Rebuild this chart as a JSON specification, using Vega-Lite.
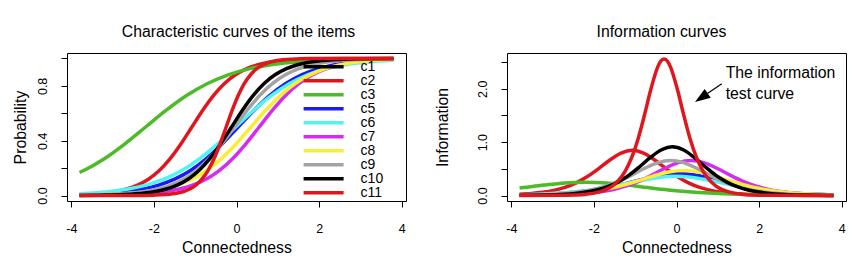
{
  "$schema": "https://vega.github.io/schema/vega-lite/v6.json",
  "background": "white",
  "padding": {"left": 11, "top": 23, "right": 0, "bottom": 0},
  "config": {
    "font": "Liberation Sans",
    "view": {"stroke": "black", "strokeWidth": 1},
    "axis": {"domain": false, "grid": false, "ticks": true, "tickColor": "black", "tickSize": 6, "tickWidth": 1, "labelFont": "Liberation Sans", "labelFontSize": 12.5, "labelColor": "black", "titleFont": "Liberation Sans", "titleFontSize": 15.8, "titleFontWeight": "normal", "titleColor": "black", "labelFlush": false, "labelOverlap": false},
    "axisX": {"labelPadding": 15, "titlePadding": 6},
    "axisY": {"labelAngle": 270, "labelAlign": "center", "labelBaseline": "bottom", "labelPadding": 12, "titlePadding": 8},
    "title": {"font": "Liberation Sans", "fontSize": 15.8, "fontWeight": "normal", "color": "black"}
  },
  "resolve": {"scale": {"color": "independent"}},
  "spacing": 26,
  "datasets": {
    "icc": [
      {"item":"c2","x":-3.8,"p":0.0057},{"item":"c2","x":-3.712,"p":0.0067},{"item":"c2","x":-3.185,"p":0.018},{"item":"c2","x":-2.922,"p":0.0293},{"item":"c2","x":-2.659,"p":0.0474},{"item":"c2","x":-2.396,"p":0.0759},{"item":"c2","x":-2.133,"p":0.1192},{"item":"c2","x":-1.869,"p":0.1824},{"item":"c2","x":-1.606,"p":0.2689},{"item":"c2","x":-1.343,"p":0.3775},{"item":"c2","x":-1.08,"p":0.5},{"item":"c2","x":-0.817,"p":0.6225},{"item":"c2","x":-0.554,"p":0.7311},{"item":"c2","x":-0.291,"p":0.8176},{"item":"c2","x":-0.027,"p":0.8808},{"item":"c2","x":0.236,"p":0.9241},{"item":"c2","x":0.499,"p":0.9526},{"item":"c2","x":0.762,"p":0.9707},{"item":"c2","x":1.025,"p":0.982},{"item":"c2","x":1.552,"p":0.9933},{"item":"c2","x":2.078,"p":0.9975},{"item":"c2","x":2.604,"p":0.9991},{"item":"c2","x":3.131,"p":0.9997},{"item":"c2","x":3.8,"p":0.9999},
      {"item":"c3","x":-3.8,"p":0.168},{"item":"c3","x":-3.7,"p":0.1824},{"item":"c3","x":-3.2,"p":0.2689},{"item":"c3","x":-2.7,"p":0.3775},{"item":"c3","x":-2.2,"p":0.5},{"item":"c3","x":-1.7,"p":0.6225},{"item":"c3","x":-1.2,"p":0.7311},{"item":"c3","x":-0.7,"p":0.8176},{"item":"c3","x":-0.2,"p":0.8808},{"item":"c3","x":0.3,"p":0.9241},{"item":"c3","x":0.8,"p":0.9526},{"item":"c3","x":1.3,"p":0.9707},{"item":"c3","x":1.8,"p":0.982},{"item":"c3","x":2.3,"p":0.989},{"item":"c3","x":2.8,"p":0.9933},{"item":"c3","x":3.3,"p":0.9959},{"item":"c3","x":3.8,"p":0.9975},
      {"item":"c5","x":-3.8,"p":0.0068},{"item":"c5","x":-3.422,"p":0.011},{"item":"c5","x":-3.037,"p":0.018},{"item":"c5","x":-2.652,"p":0.0293},{"item":"c5","x":-2.268,"p":0.0474},{"item":"c5","x":-1.883,"p":0.0759},{"item":"c5","x":-1.498,"p":0.1192},{"item":"c5","x":-1.114,"p":0.1824},{"item":"c5","x":-0.729,"p":0.2689},{"item":"c5","x":-0.345,"p":0.3775},{"item":"c5","x":0.04,"p":0.5},{"item":"c5","x":0.425,"p":0.6225},{"item":"c5","x":0.809,"p":0.7311},{"item":"c5","x":1.194,"p":0.8176},{"item":"c5","x":1.578,"p":0.8808},{"item":"c5","x":1.963,"p":0.9241},{"item":"c5","x":2.348,"p":0.9526},{"item":"c5","x":2.732,"p":0.9707},{"item":"c5","x":3.117,"p":0.982},{"item":"c5","x":3.502,"p":0.989},{"item":"c5","x":3.8,"p":0.9925},
      {"item":"c6","x":-3.8,"p":0.0128},{"item":"c6","x":-3.498,"p":0.018},{"item":"c6","x":-3.063,"p":0.0293},{"item":"c6","x":-2.629,"p":0.0474},{"item":"c6","x":-2.194,"p":0.0759},{"item":"c6","x":-1.759,"p":0.1192},{"item":"c6","x":-1.324,"p":0.1824},{"item":"c6","x":-0.89,"p":0.2689},{"item":"c6","x":-0.455,"p":0.3775},{"item":"c6","x":-0.02,"p":0.5},{"item":"c6","x":0.415,"p":0.6225},{"item":"c6","x":0.85,"p":0.7311},{"item":"c6","x":1.284,"p":0.8176},{"item":"c6","x":1.719,"p":0.8808},{"item":"c6","x":2.154,"p":0.9241},{"item":"c6","x":2.589,"p":0.9526},{"item":"c6","x":3.023,"p":0.9707},{"item":"c6","x":3.458,"p":0.982},{"item":"c6","x":3.8,"p":0.9878},
      {"item":"c7","x":-3.8,"p":0.0012},{"item":"c7","x":-3.321,"p":0.0025},{"item":"c7","x":-2.676,"p":0.0067},{"item":"c7","x":-2.031,"p":0.018},{"item":"c7","x":-1.708,"p":0.0293},{"item":"c7","x":-1.385,"p":0.0474},{"item":"c7","x":-1.063,"p":0.0759},{"item":"c7","x":-0.74,"p":0.1192},{"item":"c7","x":-0.418,"p":0.1824},{"item":"c7","x":-0.095,"p":0.2689},{"item":"c7","x":0.227,"p":0.3775},{"item":"c7","x":0.55,"p":0.5},{"item":"c7","x":0.873,"p":0.6225},{"item":"c7","x":1.195,"p":0.7311},{"item":"c7","x":1.518,"p":0.8176},{"item":"c7","x":1.84,"p":0.8808},{"item":"c7","x":2.163,"p":0.9241},{"item":"c7","x":2.485,"p":0.9526},{"item":"c7","x":2.808,"p":0.9707},{"item":"c7","x":3.131,"p":0.982},{"item":"c7","x":3.453,"p":0.989},{"item":"c7","x":3.8,"p":0.9936},
      {"item":"c8","x":-3.8,"p":0.003},{"item":"c8","x":-3.221,"p":0.0067},{"item":"c8","x":-2.507,"p":0.018},{"item":"c8","x":-2.15,"p":0.0293},{"item":"c8","x":-1.793,"p":0.0474},{"item":"c8","x":-1.436,"p":0.0759},{"item":"c8","x":-1.079,"p":0.1192},{"item":"c8","x":-0.721,"p":0.1824},{"item":"c8","x":-0.364,"p":0.2689},{"item":"c8","x":-0.007,"p":0.3775},{"item":"c8","x":0.35,"p":0.5},{"item":"c8","x":0.707,"p":0.6225},{"item":"c8","x":1.064,"p":0.7311},{"item":"c8","x":1.421,"p":0.8176},{"item":"c8","x":1.779,"p":0.8808},{"item":"c8","x":2.136,"p":0.9241},{"item":"c8","x":2.493,"p":0.9526},{"item":"c8","x":2.85,"p":0.9707},{"item":"c8","x":3.207,"p":0.982},{"item":"c8","x":3.564,"p":0.989},{"item":"c8","x":3.8,"p":0.9921},
      {"item":"c9","x":-3.8,"p":0.0023},{"item":"c9","x":-3.136,"p":0.0067},{"item":"c9","x":-2.519,"p":0.018},{"item":"c9","x":-2.211,"p":0.0293},{"item":"c9","x":-1.902,"p":0.0474},{"item":"c9","x":-1.593,"p":0.0759},{"item":"c9","x":-1.285,"p":0.1192},{"item":"c9","x":-0.976,"p":0.1824},{"item":"c9","x":-0.667,"p":0.2689},{"item":"c9","x":-0.359,"p":0.3775},{"item":"c9","x":-0.05,"p":0.5},{"item":"c9","x":0.259,"p":0.6225},{"item":"c9","x":0.567,"p":0.7311},{"item":"c9","x":0.876,"p":0.8176},{"item":"c9","x":1.185,"p":0.8808},{"item":"c9","x":1.493,"p":0.9241},{"item":"c9","x":1.802,"p":0.9526},{"item":"c9","x":2.111,"p":0.9707},{"item":"c9","x":2.419,"p":0.982},{"item":"c9","x":3.036,"p":0.9933},{"item":"c9","x":3.8,"p":0.998},
      {"item":"c10","x":-3.8,"p":0.0009},{"item":"c10","x":-3.278,"p":0.0025},{"item":"c10","x":-2.752,"p":0.0067},{"item":"c10","x":-2.225,"p":0.018},{"item":"c10","x":-1.962,"p":0.0293},{"item":"c10","x":-1.699,"p":0.0474},{"item":"c10","x":-1.436,"p":0.0759},{"item":"c10","x":-1.173,"p":0.1192},{"item":"c10","x":-0.909,"p":0.1824},{"item":"c10","x":-0.646,"p":0.2689},{"item":"c10","x":-0.383,"p":0.3775},{"item":"c10","x":-0.12,"p":0.5},{"item":"c10","x":0.143,"p":0.6225},{"item":"c10","x":0.406,"p":0.7311},{"item":"c10","x":0.669,"p":0.8176},{"item":"c10","x":0.933,"p":0.8808},{"item":"c10","x":1.196,"p":0.9241},{"item":"c10","x":1.459,"p":0.9526},{"item":"c10","x":1.722,"p":0.9707},{"item":"c10","x":1.985,"p":0.982},{"item":"c10","x":2.512,"p":0.9933},{"item":"c10","x":3.038,"p":0.9975},{"item":"c10","x":3.8,"p":0.9994},
      {"item":"c11","x":-3.8,"p":0.0},{"item":"c11","x":-2.603,"p":0.0003},{"item":"c11","x":-2.309,"p":0.0009},{"item":"c11","x":-2.015,"p":0.0025},{"item":"c11","x":-1.721,"p":0.0067},{"item":"c11","x":-1.426,"p":0.018},{"item":"c11","x":-1.279,"p":0.0293},{"item":"c11","x":-1.132,"p":0.0474},{"item":"c11","x":-0.985,"p":0.0759},{"item":"c11","x":-0.838,"p":0.1192},{"item":"c11","x":-0.691,"p":0.1824},{"item":"c11","x":-0.544,"p":0.2689},{"item":"c11","x":-0.397,"p":0.3775},{"item":"c11","x":-0.25,"p":0.5},{"item":"c11","x":-0.103,"p":0.6225},{"item":"c11","x":0.044,"p":0.7311},{"item":"c11","x":0.191,"p":0.8176},{"item":"c11","x":0.338,"p":0.8808},{"item":"c11","x":0.485,"p":0.9241},{"item":"c11","x":0.632,"p":0.9526},{"item":"c11","x":0.779,"p":0.9707},{"item":"c11","x":0.926,"p":0.982},{"item":"c11","x":1.221,"p":0.9933},{"item":"c11","x":1.515,"p":0.9975},{"item":"c11","x":1.809,"p":0.9991},{"item":"c11","x":2.103,"p":0.9997},{"item":"c11","x":3.8,"p":1.0}
    ],
    "info": [
      {"item":"c2","x":-3.8,"v":0.022},{"item":"c2","x":-3.516,"v":0.0368},{"item":"c2","x":-3.244,"v":0.0598},{"item":"c2","x":-2.972,"v":0.0963},{"item":"c2","x":-2.7,"v":0.153},{"item":"c2","x":-2.429,"v":0.2374},{"item":"c2","x":-2.157,"v":0.3555},{"item":"c2","x":-1.885,"v":0.505},{"item":"c2","x":-1.613,"v":0.6656},{"item":"c2","x":-1.342,"v":0.7956},{"item":"c2","x":-1.07,"v":0.8464},{"item":"c2","x":-0.798,"v":0.7956},{"item":"c2","x":-0.527,"v":0.6656},{"item":"c2","x":-0.255,"v":0.505},{"item":"c2","x":0.017,"v":0.3555},{"item":"c2","x":0.289,"v":0.2374},{"item":"c2","x":0.56,"v":0.153},{"item":"c2","x":0.832,"v":0.0963},{"item":"c2","x":1.104,"v":0.0598},{"item":"c2","x":1.376,"v":0.0368},{"item":"c2","x":1.647,"v":0.0225},{"item":"c2","x":2.191,"v":0.0084},{"item":"c2","x":2.734,"v":0.0031},{"item":"c2","x":3.278,"v":0.0011},{"item":"c2","x":3.8,"v":0.0005},
      {"item":"c3","x":-3.8,"v":0.1398},{"item":"c3","x":-3.7,"v":0.1492},{"item":"c3","x":-3.2,"v":0.1966},{"item":"c3","x":-2.7,"v":0.235},{"item":"c3","x":-2.2,"v":0.25},{"item":"c3","x":-1.7,"v":0.235},{"item":"c3","x":-1.2,"v":0.1966},{"item":"c3","x":-0.7,"v":0.1492},{"item":"c3","x":-0.2,"v":0.105},{"item":"c3","x":0.3,"v":0.0701},{"item":"c3","x":0.8,"v":0.0452},{"item":"c3","x":1.3,"v":0.0285},{"item":"c3","x":1.8,"v":0.0177},{"item":"c3","x":2.3,"v":0.0109},{"item":"c3","x":2.8,"v":0.0067},{"item":"c3","x":3.3,"v":0.0041},{"item":"c3","x":3.8,"v":0.0025},
      {"item":"c5","x":-3.8,"v":0.0117},{"item":"c5","x":-3.466,"v":0.0178},{"item":"c5","x":-3.075,"v":0.029},{"item":"c5","x":-2.684,"v":0.0466},{"item":"c5","x":-2.294,"v":0.074},{"item":"c5","x":-1.903,"v":0.1149},{"item":"c5","x":-1.513,"v":0.172},{"item":"c5","x":-1.122,"v":0.2444},{"item":"c5","x":-0.731,"v":0.3221},{"item":"c5","x":-0.341,"v":0.385},{"item":"c5","x":0.05,"v":0.4096},{"item":"c5","x":0.441,"v":0.385},{"item":"c5","x":0.831,"v":0.3221},{"item":"c5","x":1.222,"v":0.2444},{"item":"c5","x":1.613,"v":0.172},{"item":"c5","x":2.003,"v":0.1149},{"item":"c5","x":2.394,"v":0.074},{"item":"c5","x":2.784,"v":0.0466},{"item":"c5","x":3.175,"v":0.029},{"item":"c5","x":3.566,"v":0.0178},{"item":"c5","x":3.8,"v":0.0133},
      {"item":"c6","x":-3.8,"v":0.0151},{"item":"c6","x":-3.353,"v":0.0254},{"item":"c6","x":-2.937,"v":0.041},{"item":"c6","x":-2.52,"v":0.0651},{"item":"c6","x":-2.103,"v":0.101},{"item":"c6","x":-1.687,"v":0.1512},{"item":"c6","x":-1.27,"v":0.2148},{"item":"c6","x":-0.853,"v":0.2831},{"item":"c6","x":-0.437,"v":0.3384},{"item":"c6","x":-0.02,"v":0.36},{"item":"c6","x":0.397,"v":0.3384},{"item":"c6","x":0.813,"v":0.2831},{"item":"c6","x":1.23,"v":0.2148},{"item":"c6","x":1.647,"v":0.1512},{"item":"c6","x":2.063,"v":0.101},{"item":"c6","x":2.48,"v":0.0651},{"item":"c6","x":2.897,"v":0.041},{"item":"c6","x":3.313,"v":0.0254},{"item":"c6","x":3.73,"v":0.0157},{"item":"c6","x":3.8,"v":0.0144},
      {"item":"c7","x":-3.8,"v":0.0031},{"item":"c7","x":-3.354,"v":0.0065},{"item":"c7","x":-2.736,"v":0.0175},{"item":"c7","x":-2.428,"v":0.0285},{"item":"c7","x":-2.119,"v":0.0464},{"item":"c7","x":-1.811,"v":0.0747},{"item":"c7","x":-1.502,"v":0.1186},{"item":"c7","x":-1.193,"v":0.184},{"item":"c7","x":-0.885,"v":0.2755},{"item":"c7","x":-0.576,"v":0.3914},{"item":"c7","x":-0.267,"v":0.516},{"item":"c7","x":0.041,"v":0.6167},{"item":"c7","x":0.35,"v":0.6561},{"item":"c7","x":0.659,"v":0.6167},{"item":"c7","x":0.967,"v":0.516},{"item":"c7","x":1.276,"v":0.3914},{"item":"c7","x":1.585,"v":0.2755},{"item":"c7","x":1.893,"v":0.184},{"item":"c7","x":2.202,"v":0.1186},{"item":"c7","x":2.511,"v":0.0747},{"item":"c7","x":2.819,"v":0.0464},{"item":"c7","x":3.128,"v":0.0285},{"item":"c7","x":3.436,"v":0.0175},{"item":"c7","x":3.8,"v":0.0097},
      {"item":"c8","x":-3.8,"v":0.008},{"item":"c8","x":-3.47,"v":0.0125},{"item":"c8","x":-3.105,"v":0.0204},{"item":"c8","x":-2.74,"v":0.0332},{"item":"c8","x":-2.375,"v":0.0534},{"item":"c8","x":-2.01,"v":0.0848},{"item":"c8","x":-1.645,"v":0.1316},{"item":"c8","x":-1.28,"v":0.1971},{"item":"c8","x":-0.915,"v":0.2799},{"item":"c8","x":-0.55,"v":0.369},{"item":"c8","x":-0.185,"v":0.4411},{"item":"c8","x":0.18,"v":0.4692},{"item":"c8","x":0.545,"v":0.4411},{"item":"c8","x":0.91,"v":0.369},{"item":"c8","x":1.275,"v":0.2799},{"item":"c8","x":1.64,"v":0.1971},{"item":"c8","x":2.005,"v":0.1316},{"item":"c8","x":2.37,"v":0.0848},{"item":"c8","x":2.735,"v":0.0534},{"item":"c8","x":3.1,"v":0.0332},{"item":"c8","x":3.465,"v":0.0204},{"item":"c8","x":3.8,"v":0.013},
      {"item":"c9","x":-3.8,"v":0.0069},{"item":"c9","x":-3.226,"v":0.0175},{"item":"c9","x":-2.918,"v":0.0285},{"item":"c9","x":-2.609,"v":0.0464},{"item":"c9","x":-2.301,"v":0.0747},{"item":"c9","x":-1.992,"v":0.1186},{"item":"c9","x":-1.683,"v":0.184},{"item":"c9","x":-1.375,"v":0.2755},{"item":"c9","x":-1.066,"v":0.3914},{"item":"c9","x":-0.757,"v":0.516},{"item":"c9","x":-0.449,"v":0.6167},{"item":"c9","x":-0.14,"v":0.6561},{"item":"c9","x":0.169,"v":0.6167},{"item":"c9","x":0.477,"v":0.516},{"item":"c9","x":0.786,"v":0.3914},{"item":"c9","x":1.095,"v":0.2755},{"item":"c9","x":1.403,"v":0.184},{"item":"c9","x":1.712,"v":0.1186},{"item":"c9","x":2.021,"v":0.0747},{"item":"c9","x":2.329,"v":0.0464},{"item":"c9","x":2.638,"v":0.0285},{"item":"c9","x":2.946,"v":0.0175},{"item":"c9","x":3.564,"v":0.0065},{"item":"c9","x":3.8,"v":0.0044},
      {"item":"c10","x":-3.8,"v":0.0031},{"item":"c10","x":-3.241,"v":0.009},{"item":"c10","x":-2.718,"v":0.0243},{"item":"c10","x":-2.456,"v":0.0397},{"item":"c10","x":-2.194,"v":0.0645},{"item":"c10","x":-1.932,"v":0.1038},{"item":"c10","x":-1.671,"v":0.1648},{"item":"c10","x":-1.409,"v":0.2558},{"item":"c10","x":-1.147,"v":0.383},{"item":"c10","x":-0.885,"v":0.5441},{"item":"c10","x":-0.624,"v":0.7173},{"item":"c10","x":-0.362,"v":0.8573},{"item":"c10","x":-0.1,"v":0.912},{"item":"c10","x":0.162,"v":0.8573},{"item":"c10","x":0.424,"v":0.7173},{"item":"c10","x":0.685,"v":0.5441},{"item":"c10","x":0.947,"v":0.383},{"item":"c10","x":1.209,"v":0.2558},{"item":"c10","x":1.471,"v":0.1648},{"item":"c10","x":1.733,"v":0.1038},{"item":"c10","x":1.994,"v":0.0645},{"item":"c10","x":2.256,"v":0.0397},{"item":"c10","x":2.518,"v":0.0243},{"item":"c10","x":3.041,"v":0.009},{"item":"c10","x":3.8,"v":0.0021},
      {"item":"c11","x":-3.8,"v":0.0001},{"item":"c11","x":-2.8,"v":0.0034},{"item":"c11","x":-2.488,"v":0.0093},{"item":"c11","x":-2.175,"v":0.0253},{"item":"c11","x":-1.863,"v":0.0681},{"item":"c11","x":-1.706,"v":0.1113},{"item":"c11","x":-1.55,"v":0.1809},{"item":"c11","x":-1.394,"v":0.2913},{"item":"c11","x":-1.238,"v":0.4626},{"item":"c11","x":-1.081,"v":0.7179},{"item":"c11","x":-0.925,"v":1.0751},{"item":"c11","x":-0.769,"v":1.5273},{"item":"c11","x":-0.613,"v":2.0133},{"item":"c11","x":-0.456,"v":2.4064},{"item":"c11","x":-0.378,"v":2.5204},{"item":"c11","x":-0.3,"v":2.56},{"item":"c11","x":-0.222,"v":2.5204},{"item":"c11","x":-0.144,"v":2.4064},{"item":"c11","x":0.013,"v":2.0133},{"item":"c11","x":0.169,"v":1.5273},{"item":"c11","x":0.325,"v":1.0751},{"item":"c11","x":0.481,"v":0.7179},{"item":"c11","x":0.638,"v":0.4626},{"item":"c11","x":0.794,"v":0.2913},{"item":"c11","x":0.95,"v":0.1809},{"item":"c11","x":1.106,"v":0.1113},{"item":"c11","x":1.263,"v":0.0681},{"item":"c11","x":1.575,"v":0.0253},{"item":"c11","x":1.888,"v":0.0093},{"item":"c11","x":2.2,"v":0.0034},{"item":"c11","x":3.8,"v":0.0001}
    ],
    "notes": [
      {"label": "The information", "x": 1.19, "v": 2.206},
      {"label": "test curve", "x": 1.19, "v": 1.813}
    ],
    "arrow": [
      {"x": 1.096, "v": 2.094, "x2": 0.749, "v2": 1.91}
    ],
    "head": [
      {"x": 0.602, "v": 1.832}
    ]
  },
  "hconcat": [
    {
      "width": 339,
      "height": 148,
      "title": {"text": "Characteristic curves of the items", "offset": 0, "baseline": "alphabetic", "dx": 2},
      "data": {"name": "icc"},
      "mark": {"type": "line", "strokeWidth": 3.5, "interpolate": "monotone", "clip": true},
      "encoding": {
        "x": {"field": "x", "type": "quantitative", "title": "Connectedness", "scale": {"domain": [-4.104, 4.104], "nice": false, "zero": false}, "axis": {"values": [-4, -2, 0, 2, 4], "labelExpr": "replace(datum.label, '−', '-')"}},
        "y": {"field": "p", "type": "quantitative", "title": "Probability", "scale": {"domain": [-0.04, 1.04], "nice": false, "zero": false}, "axis": {"values": [0, 0.2, 0.4, 0.6, 0.8, 1], "labelExpr": "datum.value == 0 || abs(datum.value - 0.4) < 0.001 || abs(datum.value - 0.8) < 0.001 ? format(datum.value, '.1f') : ''"}},
        "color": {
          "field": "item", "type": "nominal",
          "scale": {"domain": ["c1", "c2", "c3", "c5", "c6", "c7", "c8", "c9", "c10", "c11"], "range": ["#000000", "#E0161E", "#4CBB28", "#1A1AF5", "#4FF5F5", "#D42DF2", "#F8EE36", "#A3A3A3", "#000000", "#E0161E"]},
          "legend": {"orient": "none", "legendX": 249.6, "legendY": 6.8, "title": null, "direction": "vertical", "symbolType": "M-4,0L4,0", "symbolSize": 100, "symbolStrokeWidth": 3.5, "labelFont": "Liberation Sans", "labelFontSize": 14, "labelColor": "black", "labelOffset": 30, "padding": 0, "rowPadding": -0.7}
        }
      }
    },
    {
      "width": 339,
      "height": 148,
      "title": {"text": "Information curves", "offset": 0, "baseline": "alphabetic", "dx": -15},
      "encoding": {
        "x": {"field": "x", "type": "quantitative", "title": "Connectedness", "scale": {"domain": [-4.104, 4.104], "nice": false, "zero": false}, "axis": {"values": [-4, -2, 0, 2, 4], "labelExpr": "replace(datum.label, '−', '-')"}},
        "y": {"field": "v", "type": "quantitative", "title": "Information", "scale": {"domain": [-0.1027, 2.6707], "nice": false, "zero": false}, "axis": {"values": [0, 0.5, 1, 1.5, 2, 2.5], "titlePadding": 26, "labelExpr": "datum.value % 1 == 0 ? format(datum.value, '.1f') : ''"}}
      },
      "layer": [
        {
          "data": {"name": "info"},
          "mark": {"type": "line", "strokeWidth": 3.5, "interpolate": "monotone", "clip": true},
          "encoding": {
            "color": {
              "field": "item", "type": "nominal",
              "scale": {"domain": ["c1", "c2", "c3", "c5", "c6", "c7", "c8", "c9", "c10", "c11"], "range": ["#000000", "#E0161E", "#4CBB28", "#1A1AF5", "#4FF5F5", "#D42DF2", "#F8EE36", "#A3A3A3", "#000000", "#E0161E"]},
              "legend": null
            }
          }
        },
        {
          "data": {"name": "arrow"},
          "mark": {"type": "rule", "color": "black", "strokeWidth": 1.2},
          "encoding": {"x2": {"field": "x2"}, "y2": {"field": "v2"}}
        },
        {
          "data": {"name": "head"},
          "mark": {"type": "point", "shape": "M0,-1L0.7,1L-0.7,1Z", "filled": true, "color": "black", "opacity": 1, "size": 237, "angle": 235.6, "strokeWidth": 0}
        },
        {
          "data": {"name": "notes"},
          "mark": {"type": "text", "align": "left", "baseline": "alphabetic", "font": "Liberation Sans", "fontSize": 15.8, "color": "black"},
          "encoding": {"text": {"field": "label"}}
        }
      ]
    }
  ]
}
